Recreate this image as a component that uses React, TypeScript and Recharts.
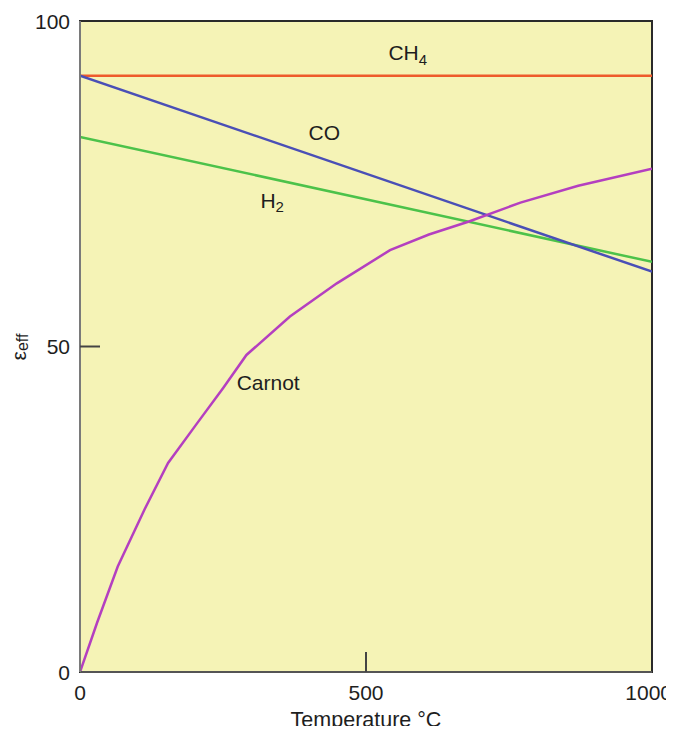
import React from "react";
import { LineChart, Line, XAxis, YAxis, ReferenceArea, ReferenceDot } from "recharts";

const temps = [0, 30, 66, 113, 154, 203, 250, 291, 367, 449, 542, 610, 680, 770, 871, 1000];
const carnotEff = [0, 7.6, 16.2, 25.0, 32.1, 38.0, 43.6, 48.7, 54.6, 59.7, 64.8, 67.2, 69.2, 72.1, 74.7, 77.3];
const lineTemps = [0, 1000];
const ch4Eff = [91.6, 91.6];
const coEff = [91.6, 61.5];
const h2Eff = [82.2, 63.0];
const xTicks = [0, 500, 1000];
const yTicks = [0, 50, 100];

const carnotData = temps.map((t, i) => ({ t, v: carnotEff[i] }));
const ch4Data = lineTemps.map((t, i) => ({ t, v: ch4Eff[i] }));
const coData = lineTemps.map((t, i) => ({ t, v: coEff[i] }));
const h2Data = lineTemps.map((t, i) => ({ t, v: h2Eff[i] }));

const FONT = "'Liberation Sans', Arial, sans-serif";
const TXT = "#1e1e1e";

const XTick = (props: any) => {
  const { x, y, payload } = props;
  const last = payload.value === 1000;
  return (
    <g>
      {payload.value === 500 && <line x1={x} y1={y} x2={x} y2={y - 20} stroke="#444" strokeWidth={2} />}
      <text x={last ? x + 20 : x} y={y + 20} textAnchor={last ? "end" : "middle"} dominantBaseline="central" fontSize={21} fontFamily={FONT} fill={TXT}>
        {payload.value}
      </text>
    </g>
  );
};

const YTick = (props: any) => {
  const { x, y, payload } = props;
  return (
    <g>
      {payload.value === 50 && <line x1={x} y1={y} x2={x + 20} y2={y} stroke="#444" strokeWidth={2} />}
      <text x={x - 10} y={y} textAnchor="end" dominantBaseline="central" fontSize={21} fontFamily={FONT} fill={TXT}>
        {payload.value}
      </text>
    </g>
  );
};

const makeLabel = (main: string, sub?: string) => (props: any) => {
  const { viewBox } = props;
  const cx = viewBox.x + (viewBox.width || 0) / 2;
  const cy = viewBox.y + (viewBox.height || 0) / 2;
  return (
    <text x={cx} y={cy} textAnchor="middle" dominantBaseline="central" fontSize={21} fontFamily={FONT} fill={TXT}>
      {main}
      {sub && (
        <tspan dy={6} fontSize={15}>
          {sub}
        </tspan>
      )}
    </text>
  );
};

const XLabel = (props: any) => {
  const { viewBox } = props;
  return (
    <text x={viewBox.x + viewBox.width / 2} y={viewBox.y + 48} textAnchor="middle" dominantBaseline="central" fontSize={21.5} fontFamily={FONT} fill={TXT}>
      Temperature °C
    </text>
  );
};

const YLabel = () => {
  return (
    <text x={0} y={0} transform="translate(10,339) rotate(-90)" textAnchor="middle" dominantBaseline="central" fontSize={21} fontFamily={FONT} fill={TXT}>
      ε
      <tspan dy={4} fontSize={16}>eff</tspan>
    </text>
  );
};

export default function App() {
  return (
    <div style={{ width: 666, height: 726, marginBottom: -8 }}>
      <style>{`html,body{overflow:hidden}`}</style>
      <LineChart width={666} height={726} margin={{ top: 13, right: 22, left: 22, bottom: 8 }}>
        <ReferenceArea x1={0} x2={1000} y1={0} y2={100} fill="#F5F3B6" fillOpacity={1} stroke="#2a2a2a" strokeWidth={2} />
        <XAxis
          type="number"
          dataKey="t"
          domain={[0, 1000]}
          ticks={xTicks}
          tick={<XTick />}
          tickLine={false}
          tickSize={0}
          tickMargin={0}
          axisLine={{ stroke: "#555", strokeWidth: 2 }}
          height={54}
          label={<XLabel />}
          allowDataOverflow
        />
        <YAxis
          type="number"
          dataKey="v"
          domain={[0, 100]}
          ticks={yTicks}
          tick={<YTick />}
          tickLine={false}
          tickSize={0}
          tickMargin={0}
          axisLine={{ stroke: "#7a7a7a", strokeWidth: 2 }}
          width={50}
          label={<YLabel />}
          allowDataOverflow
        />
        <Line data={ch4Data} dataKey="v" type="linear" stroke="#EE5A2B" strokeWidth={2.5} dot={false} isAnimationActive={false} />
        <Line data={h2Data} dataKey="v" type="linear" stroke="#4CC24A" strokeWidth={2.5} dot={false} isAnimationActive={false} />
        <Line data={coData} dataKey="v" type="linear" stroke="#4A4FB6" strokeWidth={2.5} dot={false} isAnimationActive={false} />
        <Line data={carnotData} dataKey="v" type="linear" stroke="#B43FC0" strokeWidth={2.5} dot={false} isAnimationActive={false} />
        <ReferenceDot x={573} y={95.1} r={0} fill="none" stroke="none" label={makeLabel("CH", "4")} />
        <ReferenceDot x={427} y={82.8} r={0} fill="none" stroke="none" label={makeLabel("CO")} />
        <ReferenceDot x={336} y={72.5} r={0} fill="none" stroke="none" label={makeLabel("H", "2")} />
        <ReferenceDot x={329} y={44.4} r={0} fill="none" stroke="none" label={makeLabel("Carnot")} />
      </LineChart>
    </div>
  );
}
